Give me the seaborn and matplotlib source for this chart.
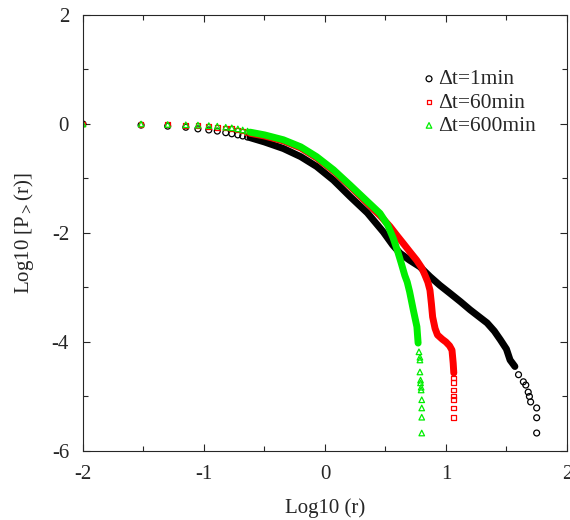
import matplotlib
matplotlib.use("Agg")
import matplotlib.pyplot as plt
import seaborn as sns

# sparse points at small r (same r grid for all three series)
x_head = [-2.0, -1.52, -1.30, -1.15, -1.05, -0.96, -0.89, -0.82, -0.77, -0.72, -0.68, -0.64]
y_head_1 = [0.0, -0.02, -0.04, -0.06, -0.09, -0.11, -0.13, -0.16, -0.18, -0.20, -0.22, -0.24]
y_head_60 = [0.0, -0.005, -0.015, -0.025, -0.035, -0.045, -0.06, -0.075, -0.09, -0.11, -0.13, -0.15]
y_head_600 = [0.0, 0.0, -0.01, -0.015, -0.02, -0.03, -0.04, -0.06, -0.07, -0.09, -0.11, -0.13]

# dense part (markers overlap into a band)
x_band_1 = [-0.62, -0.50, -0.344, -0.20, -0.069, 0.07, 0.207, 0.35, 0.482, 0.56, 0.62, 0.70,
            0.785, 0.868, 0.95, 1.03, 1.12, 1.20, 1.27, 1.34, 1.40, 1.45, 1.50, 1.53, 1.57]
y_band_1 = [-0.25, -0.33, -0.45, -0.60, -0.78, -1.03, -1.33, -1.63, -1.98, -2.22, -2.37, -2.50,
            -2.62, -2.80, -2.96, -3.10, -3.26, -3.41, -3.53, -3.65, -3.80, -3.96, -4.13, -4.33, -4.45]
x_band_60 = [-0.62, -0.50, -0.344, -0.20, -0.069, 0.07, 0.207, 0.35, 0.455, 0.537, 0.60, 0.647,
             0.70, 0.758, 0.80, 0.826, 0.85, 0.868, 0.88, 0.89, 0.91, 0.93, 0.97, 1.00, 1.03, 1.05,
             1.06, 1.065]
y_band_60 = [-0.17, -0.22, -0.31, -0.44, -0.62, -0.86, -1.14, -1.45, -1.68, -1.88, -2.06, -2.19,
             -2.34, -2.50, -2.64, -2.77, -2.90, -3.05, -3.30, -3.54, -3.75, -3.87, -3.95, -4.00,
             -4.07, -4.15, -4.39, -4.57]
x_band_600 = [-0.62, -0.50, -0.344, -0.20, -0.069, 0.07, 0.207, 0.35, 0.455, 0.52, 0.565, 0.60,
              0.63, 0.66, 0.68, 0.70, 0.73, 0.76, 0.77]
y_band_600 = [-0.15, -0.20, -0.29, -0.42, -0.60, -0.84, -1.12, -1.42, -1.64, -1.86, -2.10, -2.33,
              -2.55, -2.78, -2.90, -3.08, -3.41, -3.72, -4.02]

# sparse tails
x_tail_1 = [1.60, 1.64, 1.66, 1.68, 1.69, 1.70, 1.75, 1.75, 1.75]
y_tail_1 = [-4.60, -4.73, -4.79, -4.92, -5.00, -5.10, -5.21, -5.39, -5.67]
x_tail_60 = [1.065, 1.065, 1.065, 1.065, 1.065, 1.065, 1.065]
y_tail_60 = [-4.66, -4.75, -4.88, -4.99, -5.06, -5.21, -5.39]
x_tail_600 = [0.777, 0.785, 0.785, 0.785, 0.79, 0.79, 0.795, 0.795, 0.80, 0.80, 0.80, 0.80]
y_tail_600 = [-4.18, -4.28, -4.33, -4.55, -4.70, -4.75, -4.83, -4.88, -5.06, -5.21, -5.38, -5.67]

series = [
    ('Δt=1min', 'black', 'o', 18, x_head, y_head_1, x_band_1, y_band_1, x_tail_1, y_tail_1),
    ('Δt=60min', '#ff0000', 's', 12, x_head, y_head_60, x_band_60, y_band_60, x_tail_60, y_tail_60),
    ('Δt=600min', '#00ee00', '^', 16, x_head, y_head_600, x_band_600, y_band_600, x_tail_600, y_tail_600),
]

sns.set_style("ticks")
plt.rcParams['font.family'] = ['Liberation Serif', 'DejaVu Serif']
plt.rcParams['mathtext.fontset'] = 'stix'
plt.rcParams['axes.unicode_minus'] = False

fig = plt.figure(figsize=(5.7, 5.2), dpi=100)
ax = fig.add_axes([0.1456, 0.1327, 0.849, 0.8385])

for label, c, m, s, xh, yh, xb, yb, xt, yt in series:
    sns.lineplot(x=xb, y=yb, sort=False, color=c, lw=5, ax=ax, solid_capstyle='round')
    sns.scatterplot(x=xh + xt, y=yh + yt, marker=m, s=s, facecolors='none', edgecolor=c,
                    linewidth=0.9, ax=ax, label=label)

ax.set_xlim(-2, 2)
ax.set_ylim(-6, 2)
ax.set_xticks([-2, -1, 0, 1, 2])
ax.set_xticks([-1.5, -0.5, 0.5, 1.5], minor=True)
ax.set_yticks([-6, -4, -2, 0, 2])
ax.set_yticks([-5, -3, -1, 1], minor=True)
ax.tick_params(which='both', direction='in', top=True, right=True, width=0.8, labelsize=15)
ax.tick_params(which='major', length=5)
ax.tick_params(which='minor', length=3.5)
ax.tick_params(axis='x', pad=10)
ax.tick_params(axis='y', pad=10)
for sp in ax.spines.values():
    sp.set_linewidth(0.8)

ax.set_xlabel('Log10 (r)', fontsize=15, labelpad=10)
ax.set_ylabel('Log10 [P$_{>}$(r)]', fontsize=15, labelpad=11)

ax.legend(loc='upper left', bbox_to_anchor=(0.675, 0.895), frameon=False, fontsize=15.5,
          handletextpad=-0.1, labelspacing=0.15, handlelength=1.0, borderaxespad=0)

fig.savefig('out.png', dpi=100)
